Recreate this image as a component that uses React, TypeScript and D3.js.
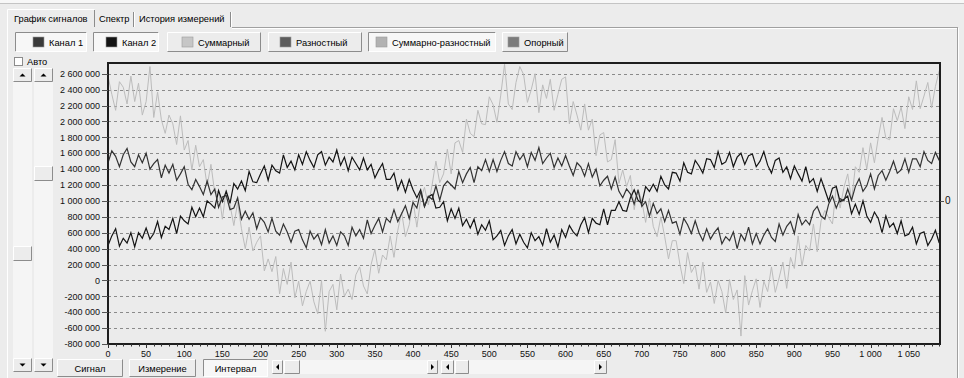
import * as d3 from "d3";

// one stored point every STEP samples (x = 0 .. 1090), values in thousands
const STEP = 5;

const CHANNEL_1 = [
  1480, 1630, 1560, 1430, 1580, 1660, 1490, 1430, 1580, 1480,
  1600, 1400, 1470, 1520, 1290, 1450, 1350, 1460, 1260, 1340,
  1430, 1210, 1140, 1270, 1180, 1080, 1250, 1080, 1150, 920,
  1050, 1070, 890, 910, 1040, 770, 870, 770, 850, 650,
  790, 730, 610, 780, 620, 570, 710, 610, 480, 620,
  640, 510, 410, 620, 520, 580, 450, 640, 470, 560,
  440, 610, 560, 440, 670, 560, 640, 530, 760, 590,
  690, 780, 610, 780, 730, 890, 740, 840, 940, 780,
  980, 910, 1120, 930, 1060, 1020, 1190, 1010, 1190, 1250,
  1200, 1150, 1370, 1230, 1340, 1420, 1230, 1430, 1380, 1520,
  1370, 1520, 1370, 1510, 1620, 1470, 1440, 1620, 1520, 1590,
  1430, 1610, 1510, 1670, 1470, 1540, 1600, 1420, 1540, 1440,
  1570, 1440, 1320, 1480, 1430, 1310, 1470, 1300, 1400, 1190,
  1260, 1310, 1150, 1300, 1120, 1040, 1150, 1090, 960, 1140,
  930, 990, 810, 970, 840, 900, 740, 880, 720, 740,
  580, 780, 700, 590, 750, 600, 500, 650, 520, 600,
  660, 460, 550, 500, 610, 400, 580, 500, 670, 460,
  590, 460, 570, 650, 540, 490, 710, 570, 680, 740,
  590, 830, 700, 760, 700, 870, 930, 810, 770, 960,
  1060, 910, 1030, 1000, 1150, 1010, 1180, 1280, 1120, 1190,
  1340, 1150, 1320, 1380, 1260, 1370, 1500, 1350, 1390, 1530,
  1360, 1530, 1530, 1430, 1620, 1510, 1470, 1610, 1510,
];

const CHANNEL_2 = [
  440, 560, 650, 430, 530, 470, 600, 420, 600, 530,
  660, 520, 590, 740, 540, 680, 640, 780, 590, 810,
  750, 710, 920, 800, 910, 800, 1000, 960, 910, 1130,
  990, 1120, 970, 1220, 1150, 1250, 1130, 1370, 1240, 1230,
  1340, 1440, 1260, 1450, 1380, 1350, 1580, 1420, 1500, 1390,
  1580, 1460, 1620, 1510, 1420, 1580, 1620, 1450, 1550, 1490,
  1640, 1450, 1550, 1380, 1550, 1470, 1390, 1540, 1390, 1460,
  1290, 1390, 1470, 1270, 1270, 1350, 1140, 1260, 1110, 1270,
  1140, 1040, 1140, 930, 1050, 1080, 910, 920, 990, 750,
  900, 780, 910, 690, 770, 660, 770, 580, 700, 630,
  750, 510, 560, 630, 440, 560, 640, 460, 580, 480,
  410, 600, 500, 550, 440, 650, 480, 570, 420, 640,
  540, 690, 610, 560, 700, 790, 600, 780, 720, 700,
  900, 700, 880, 880, 990, 880, 870, 1040, 1140, 1010,
  970, 1180, 1120, 1210, 1120, 1310, 1200, 1150, 1360, 1350,
  1250, 1480, 1360, 1340, 1510, 1440, 1350, 1530, 1520, 1420,
  1620, 1460, 1490, 1610, 1430, 1550, 1600, 1460, 1570, 1590,
  1430, 1500, 1620, 1450, 1350, 1510, 1540, 1360, 1430, 1280,
  1440, 1340, 1250, 1430, 1230, 1280, 1120, 1280, 1140, 1000,
  1160, 1180, 990, 1020, 1060, 840, 960, 830, 1000, 810,
  730, 860, 780, 600, 810, 670, 720, 590, 750, 560,
  580, 670, 460, 590, 610, 440, 520, 630, 470,
];

const SUM_DIFF = [
  2570, 2340, 2140, 2500, 2430, 2220, 2570, 2250, 2480, 2080,
  2250, 2690, 2050, 2370, 2020, 1850, 2080, 1970, 1710, 2070,
  1640, 1760, 1390, 1700, 1430, 1520, 1190, 1460, 1100, 1130,
  770, 1140, 950, 690, 980, 650, 400, 670, 370, 480,
  560, 120, 270, 110, 300, -170, 150, -50, 230, -220,
  -10, -320, -140, -10, -270, -420, 0, -640, -140, -50,
  -370, 80, -200, -110, -240, 70, 170, -70, -170, 200,
  390, 90, 320, 260, 560, 290, 630, 860, 550, 700,
  1010, 670, 1020, 1170, 950, 1200, 1500, 1230, 1340, 1650,
  1340, 1730, 1760, 1610, 2030, 1850, 1810, 2140, 1970, 1960,
  2310, 2210, 1990, 2330, 2720, 2220, 2150, 2490, 2690, 2590,
  2240, 2400, 2600, 2110, 2460, 2290, 2530, 2140, 2340, 2530,
  2560, 1970, 2250, 2080, 1890, 2220, 1890, 2030, 1570, 1830,
  1860, 1490, 1520, 1770, 1220, 1390, 1180, 1320, 890, 1150,
  1000, 730, 1030, 680, 550, 800, 550, 270, 500, 500,
  200, -40, 350, 100, 190, -110, 230, -150, -20, -290,
  0, -140, -410, 10, -240, -120, -700, 60, -310, -130,
  20, -340, -10, -140, 170, -150, 30, 230, -100, 290,
  150, 560, 180, 440, 370, 710, 360, 750, 880, 790,
  710, 1180, 910, 1170, 1340, 1000, 1430, 1360, 1670, 1400,
  1730, 1480, 1790, 2050, 1790, 1770, 2160, 2010, 2180, 1910,
  2310, 2150, 2510, 2160, 2320, 2490, 2170, 2440, 2640,
];

const Y_TICKS = [
  2600000, 2400000, 2200000, 2000000, 1800000, 1600000, 1400000, 1200000, 1000000,
  800000, 600000, 400000, 200000, 0, -200000, -400000, -600000, -800000,
];
const X_TICKS = [
  0, 50, 100, 150, 200, 250, 300, 350, 400, 450, 500, 550, 600, 650, 700, 750, 800,
  850, 900, 950, 1000, 1050,
];
const X_MAX = 1091;
const Y_MIN = -800000;
const Y_MAX = 2735000;
const RIGHT_ZERO = 1000000; // right-hand axis zero sits on this level

const TOP_TABS = ["График сигналов", "Спектр", "История измерений"];
const SERIES_BUTTONS = ["Канал 1", "Канал 2", "Суммарный", "Разностный", "Суммарно-разностный", "Опорный"];
const SERIES_ON = [true, true, false, false, true, false];
const BOTTOM_TABS = ["Сигнал", "Измерение", "Интервал"];

// layout / look
const W = 964;
const H = 378;
const PLOT = { left: 108, right: 940, top: 63, bottom: 344 };
const FONT = "'Liberation Sans', Arial, sans-serif";
const UI_SIZE = 9.3;
const BG = "#ececec";
const SWATCH = ["#3a3a3a", "#141414", "#c6c6c6", "#5c5c5c", "#b2b2b2", "#7c7c7c"];
const BTN_BOX = [[15, 87], [93, 159], [167, 261], [268, 362], [368, 496], [502, 568]];
const BTN_SWATCH_X = [33, 106, 182, 280, 376, 508];
const TOP_TAB_X = [8, 95, 135, 232];
const BOTTOM_TAB_BOX = [[57, 123], [129, 196], [203, 268]];

function Bevel({ x, y, w, h, pressed = false, fill = BG }: { x: number; y: number; w: number; h: number; pressed?: boolean; fill?: string }) {
  const light = pressed ? "#8c8c8c" : "#ffffff";
  const dark = pressed ? "#ffffff" : "#8c8c8c";
  return (
    <g>
      <rect x={x} y={y} width={w} height={h} fill={fill} />
      <path d={`M${x + 0.5},${y + h - 0.5}V${y + 0.5}H${x + w - 0.5}`} stroke={light} fill="none" />
      <path d={`M${x + 0.5},${y + h - 0.5}H${x + w - 0.5}V${y + 0.5}`} stroke={dark} fill="none" />
    </g>
  );
}

function Arrow({ cx, cy, dir }: { cx: number; cy: number; dir: "up" | "down" | "left" | "right" }) {
  const d =
    dir === "up"
      ? `M${cx - 3},${cy + 1.5}L${cx + 3},${cy + 1.5}L${cx},${cy - 1.5}Z`
      : dir === "down"
      ? `M${cx - 3},${cy - 1.5}L${cx + 3},${cy - 1.5}L${cx},${cy + 1.5}Z`
      : dir === "left"
      ? `M${cx + 1.5},${cy - 3}L${cx + 1.5},${cy + 3}L${cx - 1.5},${cy}Z`
      : `M${cx - 1.5},${cy - 3}L${cx - 1.5},${cy + 3}L${cx + 1.5},${cy}Z`;
  return <path d={d} fill="#000" />;
}

function VScroll({ x0, x1, thumb }: { x0: number; x1: number; thumb: [number, number] }) {
  const w = x1 - x0;
  return (
    <g>
      <rect x={x0} y={68} width={w} height={304} fill="#f5f5f5" />
      <Bevel x={x0} y={68} w={w} h={14} />
      <Arrow cx={x0 + w / 2} cy={75} dir="up" />
      <Bevel x={x0} y={thumb[0]} w={w} h={thumb[1] - thumb[0]} />
      <Bevel x={x0} y={358} w={w} h={14} />
      <Arrow cx={x0 + w / 2} cy={365} dir="down" />
    </g>
  );
}

function HScroll({ x0, x1, left, thumb, right }: { x0: number; x1: number; left: number; thumb: [number, number]; right: number }) {
  return (
    <g>
      <rect x={x0} y={360} width={x1 - x0} height={14} fill="#f5f5f5" />
      <Bevel x={x0} y={360} w={left - x0} h={14} />
      <Arrow cx={(x0 + left) / 2} cy={367} dir="left" />
      <Bevel x={thumb[0]} y={360} w={thumb[1] - thumb[0]} h={14} />
      <Bevel x={right} y={360} w={x1 - right} h={14} />
      <Arrow cx={(right + x1) / 2} cy={367} dir="right" />
    </g>
  );
}

export default function App() {
  const x = d3.scaleLinear().domain([0, X_MAX]).range([PLOT.left, PLOT.right]);
  const y = d3.scaleLinear().domain([Y_MIN, Y_MAX]).range([PLOT.bottom, PLOT.top]);
  const line = d3
    .line<number>()
    .x((_, i) => x(i * STEP))
    .y((v) => y(v * 1000));
  const fmt = d3
    .formatLocale({ decimal: ",", thousands: " ", grouping: [3], currency: ["", ""], minus: "-" })
    .format(",d");
  const minorTicks = d3.range(0, X_MAX, 10);

  return (
    <svg
      width={W}
      height={H}
      viewBox={`0 0 ${W} ${H}`}
      style={{ position: "absolute", left: 0, top: 0, display: "block" }}
      fontFamily={FONT}
    >
      <defs>
        <clipPath id="plot-clip">
          <rect x={PLOT.left} y={PLOT.top} width={PLOT.right - PLOT.left} height={PLOT.bottom - PLOT.top} />
        </clipPath>
      </defs>
      <rect width={W} height={H} fill={BG} />
      <rect width={W} height={4} fill="#f7f7f7" />
      <line x1={0} x2={W} y1={3.5} y2={3.5} stroke="#c4c4c4" />

      {/* top tabs */}
      <line x1={TOP_TAB_X[3]} x2={958} y1={27.5} y2={27.5} stroke="#a0a0a0" />
      <line x1={TOP_TAB_X[3]} x2={958} y1={28.5} y2={28.5} stroke="#ffffff" />
      <path d={`M7.5,${H}V9.5H${TOP_TAB_X[1] - 0.5}`} stroke="#ffffff" fill="none" />
      <path d={`M${TOP_TAB_X[1] - 0.5},10V27`} stroke="#8c8c8c" fill="none" />
      <line x1={957.5} x2={957.5} y1={28} y2={H} stroke="#a0a0a0" />
      <line x1={958.5} x2={958.5} y1={28} y2={H} stroke="#ffffff" />
      {TOP_TABS.map((t, i) => (
        <g key={t}>
          {i > 0 && (
            <>
              <line x1={TOP_TAB_X[i + 1] - 1.5} x2={TOP_TAB_X[i + 1] - 1.5} y1={12} y2={27} stroke="#8c8c8c" />
              <line x1={TOP_TAB_X[i + 1] - 0.5} x2={TOP_TAB_X[i + 1] - 0.5} y1={12} y2={27} stroke="#ffffff" />
            </>
          )}
          <text x={TOP_TAB_X[i] + (i === 0 ? 6 : 4)} y={22} fontSize={UI_SIZE} fill="#000">
            {t}
          </text>
        </g>
      ))}

      {/* series toggle buttons */}
      {SERIES_BUTTONS.map((label, i) => {
        const [x0, x1] = BTN_BOX[i];
        const sx = BTN_SWATCH_X[i];
        return (
          <g key={label}>
            <Bevel x={x0} y={32} w={x1 - x0} h={20} pressed={SERIES_ON[i]} fill={SERIES_ON[i] ? "#f7f7f7" : BG} />
            <rect x={sx} y={37} width={11} height={10} fill={SWATCH[i]} stroke="#9a9a9a" strokeWidth={0.6} />
            <text x={sx + 16} y={46} fontSize={UI_SIZE} fill="#000">
              {label}
            </text>
          </g>
        );
      })}

      {/* auto checkbox and vertical scale scrollbars */}
      <rect x={14.5} y={57.5} width={8} height={8} fill="#ffffff" stroke="#8c8c8c" />
      <text x={27} y={65} fontSize={UI_SIZE} fill="#000">
        Авто
      </text>
      <VScroll x0={13} x1={32} thumb={[246, 261]} />
      <VScroll x0={34} x1={53} thumb={[166, 181]} />

      {/* plot */}
      <rect
        x={PLOT.left}
        y={PLOT.top}
        width={PLOT.right - PLOT.left}
        height={PLOT.bottom - PLOT.top}
        fill="#ebebeb"
      />
      {Y_TICKS.filter((v) => v > Y_MIN).map((v) => (
        <line
          key={`g${v}`}
          x1={PLOT.left}
          x2={PLOT.right}
          y1={Math.round(y(v)) + 0.5}
          y2={Math.round(y(v)) + 0.5}
          stroke="#8a8a8a"
          strokeDasharray="3,3"
        />
      ))}
      <g clipPath="url(#plot-clip)" fill="none">
        <path d={line(SUM_DIFF) ?? ""} stroke="#bcbcbc" strokeWidth={1} />
        <path d={line(CHANNEL_2) ?? ""} stroke="#141414" strokeWidth={1.2} />
        <path d={line(CHANNEL_1) ?? ""} stroke="#333333" strokeWidth={1.2} />
      </g>
      <rect
        x={PLOT.left}
        y={PLOT.top}
        width={PLOT.right - PLOT.left}
        height={PLOT.bottom - PLOT.top}
        fill="none"
        stroke="#1e1e1e"
        strokeWidth={2}
      />

      {/* y axis */}
      {Y_TICKS.map((v) => (
        <g key={`y${v}`}>
          <line x1={102} x2={PLOT.left} y1={Math.round(y(v)) + 0.5} y2={Math.round(y(v)) + 0.5} stroke="#555" />
          <text x={100} y={y(v) + 3.2} fontSize={9} textAnchor="end" fill="#111">
            {fmt(v)}
          </text>
        </g>
      ))}
      <line x1={PLOT.right} x2={PLOT.right + 4} y1={Math.round(y(RIGHT_ZERO)) + 0.5} y2={Math.round(y(RIGHT_ZERO)) + 0.5} stroke="#555" />
      <text x={PLOT.right + 5} y={y(RIGHT_ZERO) + 3.5} fontSize={10} fill="#111">
        0
      </text>

      {/* x axis */}
      {minorTicks.map((t) => (
        <line
          key={`m${t}`}
          x1={Math.round(x(t)) + 0.5}
          x2={Math.round(x(t)) + 0.5}
          y1={PLOT.bottom}
          y2={PLOT.bottom + (t % 50 === 0 ? 4 : 2.5)}
          stroke="#333"
        />
      ))}
      {X_TICKS.map((t) => (
        <text key={`x${t}`} x={x(t)} y={356.5} fontSize={9} textAnchor="middle" fill="#111">
          {fmt(t)}
        </text>
      ))}

      {/* bottom tabs and scrollbars */}
      {BOTTOM_TABS.map((t, i) => {
        const [x0, x1] = BOTTOM_TAB_BOX[i];
        const active = i === 2;
        return (
          <g key={t}>
            <Bevel x={x0} y={359} w={x1 - x0} h={18} pressed={active} fill={active ? "#f7f7f7" : BG} />
            <text x={(x0 + x1) / 2} y={372} fontSize={UI_SIZE} textAnchor="middle" fill="#000">
              {t}
            </text>
          </g>
        );
      })}
      <HScroll x0={272} x1={438} left={283} thumb={[284, 300]} right={427} />
      <HScroll x0={441} x1={607} left={454} thumb={[455, 469]} right={594} />
    </svg>
  );
}
